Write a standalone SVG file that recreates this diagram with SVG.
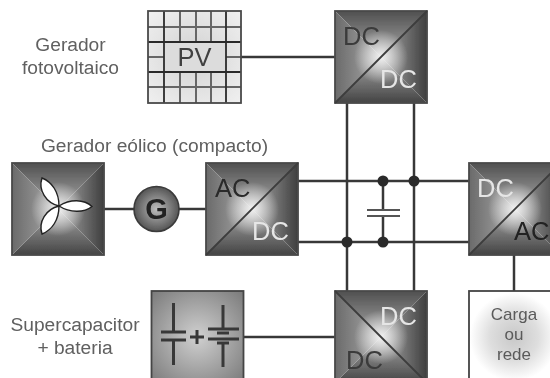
<svg xmlns="http://www.w3.org/2000/svg" xmlns:xlink="http://www.w3.org/1999/xlink" width="550" height="378" viewBox="0 0 550 378">
<style>
text{font-family:"Liberation Sans",Arial,sans-serif}
.lb{font-size:19.2px;fill:#606060;text-anchor:middle}
.dk{font-size:25.5px;fill:#3a3a3a}
.lt{font-size:25.5px;fill:#e6e6e6}
.s{fill:none;stroke:#383838;stroke-width:2.500}
.st{fill:none;stroke:#383838;stroke-width:3}
.g1{fill:none;stroke:#2c2c2c;stroke-width:1.800}
.g2{fill:none;stroke:#666;stroke-width:2}
.bl{fill:#fff;stroke:#222;stroke-width:1.400}
.fr{fill:none;stroke:#4a4a4a;stroke-width:1.800}
.dia{stroke:#3c3c3c;stroke-width:1.800}
.ld{font-size:17px;fill:#5a5a5a;text-anchor:middle}
</style>
<defs>
<filter id="soft" x="-2%" y="-2%" width="104%" height="104%"><feGaussianBlur stdDeviation="0.45"/></filter>
<linearGradient id="gT" x1="0" y1="0" x2="0" y2="1"><stop offset="0" stop-color="#505050"/><stop offset="1" stop-color="#acacac"/></linearGradient>
<linearGradient id="gB" x1="0" y1="1" x2="0" y2="0"><stop offset="0" stop-color="#444"/><stop offset="1" stop-color="#acacac"/></linearGradient>
<linearGradient id="gL" x1="0" y1="0" x2="1" y2="0"><stop offset="0" stop-color="#6a6a6a"/><stop offset="1" stop-color="#acacac"/></linearGradient>
<linearGradient id="gR" x1="1" y1="0" x2="0" y2="0"><stop offset="0" stop-color="#3e3e3e"/><stop offset="1" stop-color="#acacac"/></linearGradient>
<radialGradient id="hi"><stop offset="0" stop-color="#f4f4f4" stop-opacity=".95"/><stop offset="1" stop-color="#f4f4f4" stop-opacity="0"/></radialGradient>
<radialGradient id="gCap" cx=".5" cy=".5" r=".7"><stop offset="0" stop-color="#d0d0d0"/><stop offset="1" stop-color="#7a7a7a"/></radialGradient>
<radialGradient id="gCell" cx=".5" cy=".5" r=".7"><stop offset="0" stop-color="#d2d2d2"/><stop offset="1" stop-color="#f0f0f0"/></radialGradient>
<radialGradient id="gLoad" gradientUnits="userSpaceOnUse" cx="514" cy="337" r="44"><stop offset="0" stop-color="#c8c8c8"/><stop offset=".55" stop-color="#dedede"/><stop offset="1" stop-color="#fff"/></radialGradient>
<radialGradient id="gG" cx=".5" cy=".5" r=".55"><stop offset="0" stop-color="#bdbdbd"/><stop offset="1" stop-color="#4a4a4a"/></radialGradient>
<g id="box">
<path d="M0 0H92L46 46Z" fill="url(#gT)"/>
<path d="M0 92H92L46 46Z" fill="url(#gB)"/>
<path d="M0 0V92L46 46Z" fill="url(#gL)"/>
<path d="M92 0V92L46 46Z" fill="url(#gR)"/>
<circle cx="46" cy="46" r="27" fill="url(#hi)"/>
<rect width="92" height="92" class="fr"/>
</g>
</defs>
<g filter="url(#soft)">
<g id="connectors">
<path class="s" d="M241 57H335"/>
<path class="s" d="M104 209H206"/>
<path class="s" d="M243 337H335"/>
<path class="s" d="M298 181H469M298 242H469"/>
<path class="s" d="M347 103V291M414 103V291"/>
<path class="s" d="M383 181V210M383 216V242"/>
<path d="M367 210H400M367 216H400" fill="none" stroke="#555" stroke-width="2.200"/>
<path class="s" d="M514 255V291"/>
<circle cx="383" cy="181" r="5.500" fill="#2a2a2a"/>
<circle cx="414" cy="181" r="5.500" fill="#2a2a2a"/>
<circle cx="347" cy="242" r="5.500" fill="#2a2a2a"/>
<circle cx="383" cy="242" r="5.500" fill="#2a2a2a"/>
</g>
<g id="pv">
<rect x="148" y="11" width="93" height="92" fill="url(#gCell)"/>
<path class="g2" d="M148 27H241M148 87H241M180 11V42M196 11V42M211 11V42M180 72V103M196 72V103M211 72V103M148 57H164M226 57H241"/>
<path class="g1" d="M164 11V103M226 11V103M148 42H241M148 72H241"/>
<rect x="165" y="43" width="60" height="28" fill="#dcdcdc"/>
<rect x="148" y="11" width="93" height="92" class="fr"/>
<text x="194.500" y="66" font-size="25.500" fill="#3f3f3f" text-anchor="middle">PV</text>
</g>
<g id="dc-top">
<use xlink:href="#box" x="335" y="11"/>
<path class="dia" d="M335 103L427 11"/>
<text class="dk" x="343" y="45">DC</text>
<text class="lt" x="380" y="88">DC</text>
</g>
<g id="wind">
<use xlink:href="#box" x="12" y="163"/>
<path class="bl" d="M59 206C70 199 84 199 92 206.500C84 213 70 213 59 206Z"/>
<path class="bl" d="M59 206C59 192 52 182 42 178C38 190 46 203 59 206Z"/>
<path class="bl" d="M59 206C46 209 38 222 42 234C52 230 59 220 59 206Z"/>
</g>
<g id="gen">
<circle cx="156.500" cy="209" r="22.500" fill="url(#gG)" stroke="#3a3a3a" stroke-width="1.600"/>
<text x="156.500" y="219" font-size="29" font-weight="bold" fill="#222" text-anchor="middle">G</text>
</g>
<g id="ac-dc">
<use xlink:href="#box" x="206" y="163"/>
<path class="dia" d="M206 255L298 163"/>
<text x="215" y="197" font-size="25.500" fill="#2a2a2a">AC</text>
<text class="lt" x="252" y="240">DC</text>
</g>
<g id="dc-ac">
<use xlink:href="#box" x="469" y="163"/>
<path class="dia" d="M469 255L561 163"/>
<text class="lt" x="477" y="197">DC</text>
<text x="514" y="240" font-size="25.500" fill="#222">AC</text>
</g>
<g id="storage">
<rect x="151.500" y="291" width="92" height="92" fill="url(#gCap)" stroke="#444" stroke-width="1.800"/>
<path class="st" d="M173.500 303V332M161 332H186M161 340H186M173.500 340V365M190 337H204M197 330V344M223 305V329M208 329H239M208 339H239M223 343V367"/>
<path d="M217 333H229M217 343H229" fill="none" stroke="#383838" stroke-width="3"/>
</g>
<g id="dc-bottom">
<use xlink:href="#box" x="335" y="291"/>
<path class="dia" d="M335 291L427 383"/>
<text class="lt" x="380" y="325">DC</text>
<text x="346" y="369" font-size="25.500" fill="#3a3a3a">DC</text>
</g>
<g id="load">
<rect x="469" y="291" width="92" height="92" fill="url(#gLoad)" stroke="#444" stroke-width="1.800"/>
<text class="ld" x="514" y="320">Carga</text>
<text class="ld" x="514" y="340">ou</text>
<text class="ld" x="514" y="360">rede</text>
</g>
<g id="labels">
<text class="lb" x="70.500" y="51">Gerador</text>
<text class="lb" x="70.500" y="74">fotovoltaico</text>
<text class="lb" x="154.500" y="152">Gerador eólico (compacto)</text>
<text class="lb" x="75" y="331">Supercapacitor</text>
<text class="lb" x="75" y="354">+ bateria</text>
</g>
</g>
</svg>
